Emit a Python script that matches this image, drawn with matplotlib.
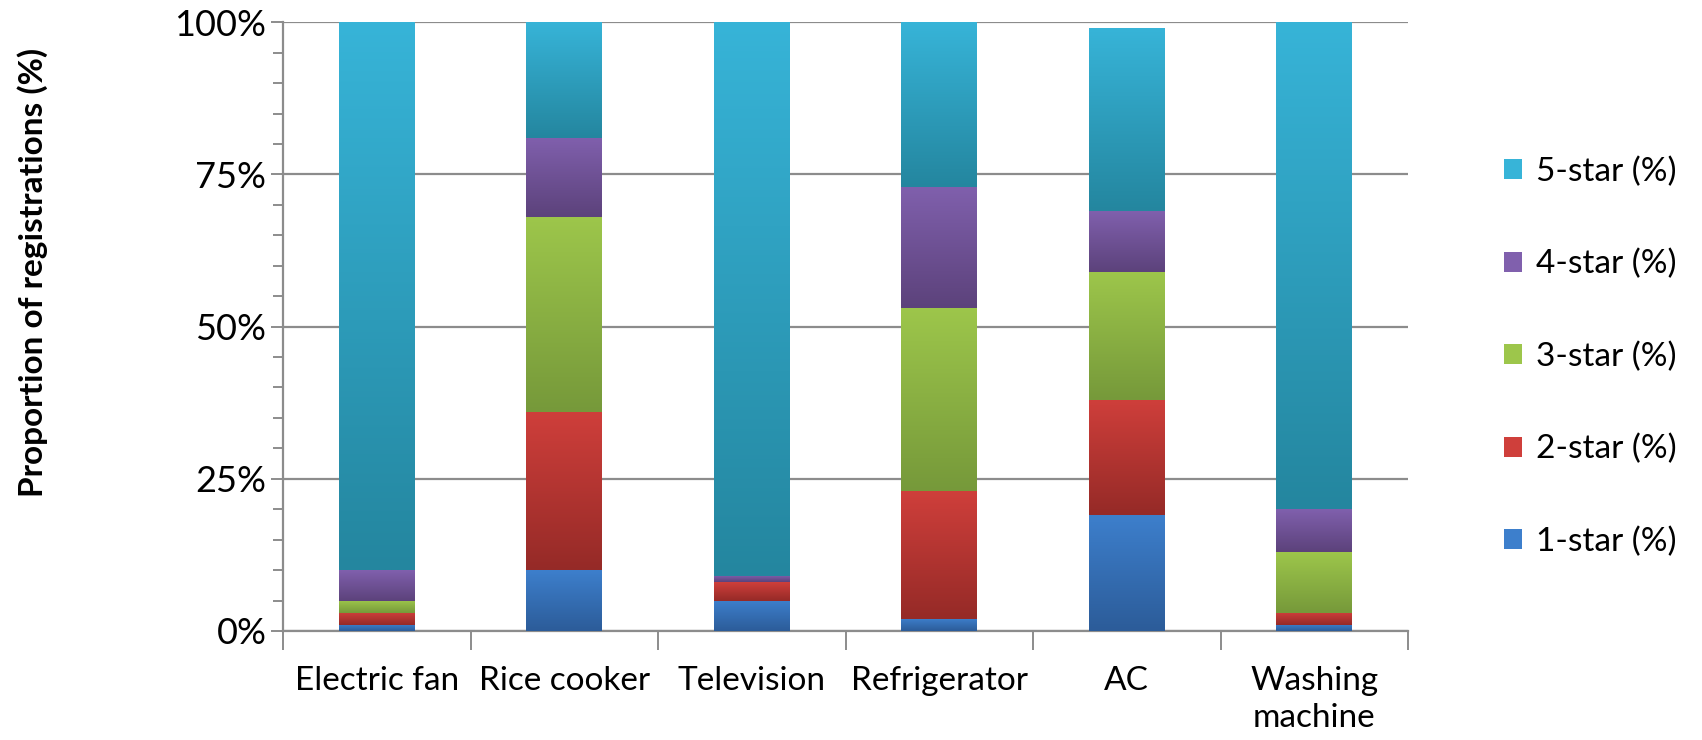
import numpy as np
import matplotlib
matplotlib.use("Agg")
import matplotlib.pyplot as plt
from matplotlib.colors import LinearSegmentedColormap
from matplotlib.patches import Patch
from matplotlib.ticker import MultipleLocator, FixedLocator, PercentFormatter

plt.rcParams['font.family'] = ['Lato', 'DejaVu Sans']

categories = ["Electric fan", "Rice cooker", "Television", "Refrigerator", "AC", "Washing\nmachine"]
series_names = ["1-star (%)", "2-star (%)", "3-star (%)", "4-star (%)", "5-star (%)"]
star1 = [1, 10, 5, 2, 19, 1]
star2 = [2, 26, 3, 21, 19, 2]
star3 = [2, 32, 0, 30, 21, 10]
star4 = [5, 13, 1, 20, 10, 7]
star5 = [90, 19, 91, 27, 30, 80]
series = [star1, star2, star3, star4, star5]

# (top colour, bottom colour) for the vertical gradient of each series
colors = [("#3d7fcc", "#2c5c99"),
          ("#cf3f3b", "#952a27"),
          ("#9dc64b", "#76993a"),
          ("#8060ad", "#5c427b"),
          ("#37b4d8", "#24869f")]

fig = plt.figure(figsize=(17.02, 7.40), dpi=100)
ax = fig.add_axes([0.1663, 0.1473, 0.8273 - 0.1663, 0.970 - 0.1473])

x = np.arange(len(categories))
width = 0.405
bottom = np.zeros(len(categories))
grad = np.linspace(0, 1, 256).reshape(-1, 1)
for vals, (ctop, cbot), name in zip(series, colors, series_names):
    vals = np.array(vals, dtype=float)
    bars = ax.bar(x, vals, width, bottom=bottom, color=ctop, edgecolor='none', zorder=2, label=name)
    cmap = LinearSegmentedColormap.from_list('g', [cbot, ctop])
    for b in bars:
        h = b.get_height()
        if h <= 0:
            continue
        x0, y0, w = b.get_x(), b.get_y(), b.get_width()
        ax.imshow(grad, extent=(x0, x0 + w, y0, y0 + h), origin='lower',
                  aspect='auto', cmap=cmap, zorder=3, interpolation='bilinear')
    bottom += vals

ax.set_xlim(-0.5, len(categories) - 0.5)
ax.set_ylim(0, 100)
ax.set_aspect('auto')

ax.yaxis.set_major_locator(MultipleLocator(25))
ax.yaxis.set_minor_locator(MultipleLocator(5))
ax.yaxis.set_major_formatter(PercentFormatter(decimals=0))
ax.grid(axis='y', which='major', color='#8c8c8c', linewidth=1.6, zorder=0)
ax.set_axisbelow(True)

for s in ['top', 'right']:
    ax.spines[s].set_visible(False)
for s in ['left', 'bottom']:
    ax.spines[s].set_color('#8c8c8c')
    ax.spines[s].set_linewidth(1.6)

ax.tick_params(axis='y', which='major', length=9, width=1.4, color='#8c8c8c',
               labelsize=26, pad=3, labelcolor='black')
ax.tick_params(axis='y', which='minor', length=7, width=1.4, color='#8c8c8c')

ax.set_xticks(x)
ax.set_xticklabels(categories, fontsize=24, linespacing=1.3, va='top')
ax.xaxis.set_minor_locator(FixedLocator(np.arange(-0.5, len(categories), 1.0)))
ax.tick_params(axis='x', which='major', length=0, pad=25)
ax.tick_params(axis='x', which='minor', length=14, width=1.4, color='#8c8c8c')

fig.text(0.019, 0.632, "Proportion of registrations (%)", rotation=90, fontsize=24,
         fontweight='bold', ha='center', va='center')

handles = [Patch(facecolor=c[0], edgecolor='none') for c in colors][::-1]
labels = series_names[::-1]
fig.legend(handles, labels, loc='center left', bbox_to_anchor=(0.866, 0.518),
           frameon=False, fontsize=24, handlelength=0.55, handleheight=0.55,
           handletextpad=0.4, labelspacing=1.86)

fig.savefig("out.png", dpi=100)
